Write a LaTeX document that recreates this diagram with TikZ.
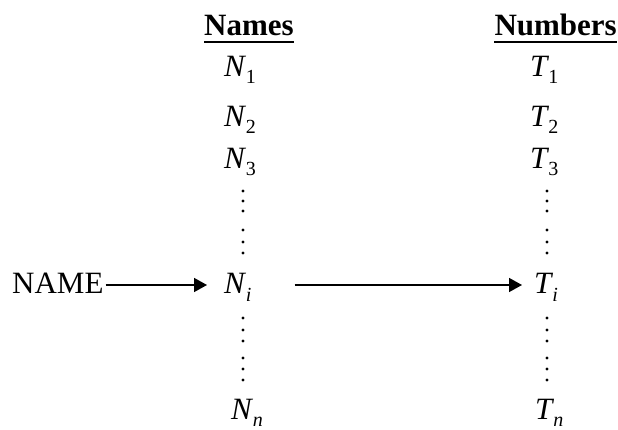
\documentclass[tikz,border=0pt]{standalone}
\usepackage{fontspec}
\setmainfont{Liberation Serif}
\usetikzlibrary{arrows.meta}
\newcommand{\lbl}[2]{{\itshape #1}\kern1pt\raisebox{-7pt}{\fontsize{20}{20}\selectfont #2}}
\begin{document}
\begin{tikzpicture}[x=1pt,y=-1pt,
  txt/.style={inner sep=0pt, anchor=base west, font=\fontsize{31}{31}\selectfont},
  head/.style={inner sep=0pt, font=\fontsize{31}{31}\selectfont\bfseries},
  vdot/.style={circle, fill=black, inner sep=0pt, minimum size=3.4pt},
  arr/.style={-{Triangle[length=13pt,width=14pt]}, line width=1.6pt}]
\useasboundingbox (0,0) rectangle (618,430);
% headings
\node[head, anchor=base west] (names) at (204,36) {Names};
\node[head, anchor=base east] (numbers) at (617,36) {Numbers};
\draw[line width=2.5pt] ([yshift=-6pt]names.base west) -- ([yshift=-6pt]names.base east);
\draw[line width=2.5pt] ([yshift=-6pt]numbers.base west) -- ([yshift=-6pt]numbers.base east);
% names column
\node[txt] (n1) at (224,77) {\lbl{N}{1}};
\node[txt] (n2) at (224,127) {\lbl{N}{2}};
\node[txt] (n3) at (224,169) {\lbl{N}{3}};
\node[txt] (ni) at (224,294) {\lbl{N}{\itshape i}};
\node[txt] (nn) at (231,419) {\lbl{N}{\itshape n}};
% numbers column
\node[txt] (t1) at (530,77) {\lbl{T}{1}};
\node[txt] (t2) at (530,127) {\lbl{T}{2}};
\node[txt] (t3) at (530,169) {\lbl{T}{3}};
\node[txt] (ti) at (534,294) {\lbl{T}{\itshape i}};
\node[txt] (tn) at (535,419) {\lbl{T}{\itshape n}};
% dots
\foreach \y [count=\k] in {191,201,211,230,242,253,318,330,341,358,369,380} {
  \node[vdot] (nd\k) at (243,\y) {};
  \node[vdot] (td\k) at (547,\y) {};
}
% NAME
\node[txt] (name) at (12,294) {NAME};
% arrows
\draw[arr, shorten <=2pt, shorten >=17pt] ([yshift=9pt]name.base east) -- ([yshift=9pt]ni.base west);
\draw[arr, shorten <=43pt, shorten >=12pt] ([yshift=9pt]ni.base east) -- ([yshift=9pt]ti.base west);
\end{tikzpicture}
\end{document}
